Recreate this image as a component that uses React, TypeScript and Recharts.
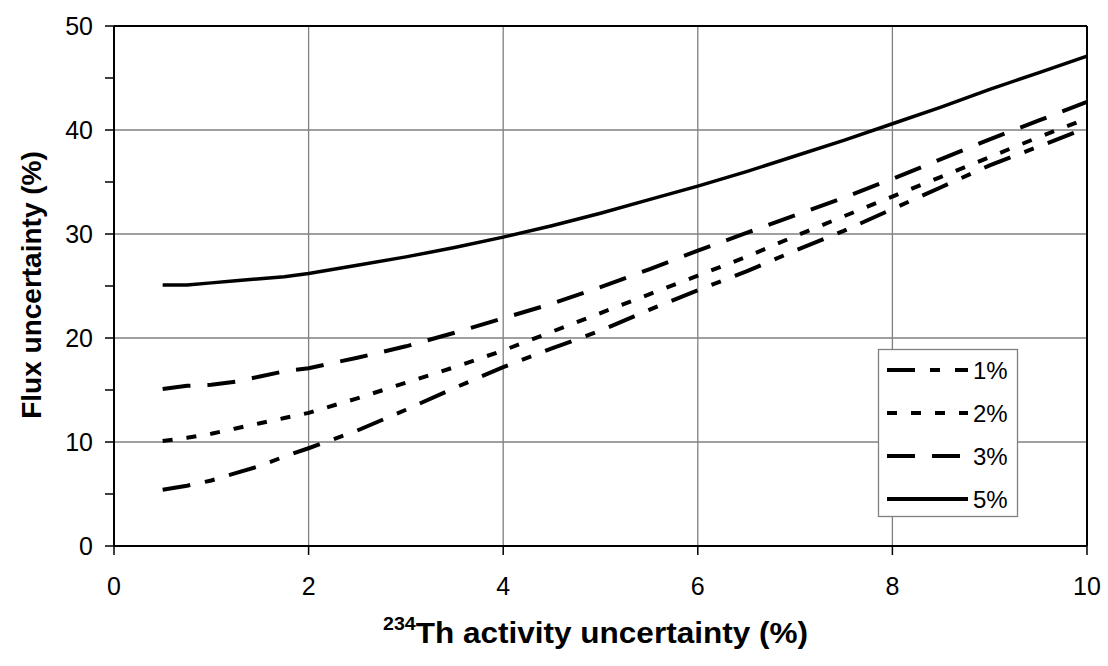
import React from 'react';
import { LineChart, Line, XAxis, YAxis, CartesianGrid, ReferenceLine } from 'recharts';

const xValues = [0.5, 0.75, 1, 1.25, 1.5, 1.75, 2, 2.5, 3, 3.5, 4, 4.5, 5, 5.5, 6, 6.5, 7, 7.5, 8, 8.5, 9, 9.5, 10];
const flux1 = [5.4, 5.8, 6.3, 7.0, 7.7, 8.6, 9.4, 11.1, 13.1, 15.2, 17.2, 19.0, 20.7, 22.7, 24.6, 26.4, 28.4, 30.3, 32.4, 34.5, 36.6, 38.4, 40.2];
const flux2 = [10.1, 10.4, 10.8, 11.3, 11.8, 12.3, 12.8, 14.2, 15.7, 17.2, 18.8, 20.6, 22.4, 24.2, 26.0, 27.8, 29.8, 31.7, 33.6, 35.5, 37.4, 39.3, 41.1];
const flux3 = [15.1, 15.4, 15.5, 15.8, 16.3, 16.8, 17.1, 18.1, 19.2, 20.5, 21.9, 23.3, 24.9, 26.6, 28.4, 30.1, 31.8, 33.5, 35.3, 37.2, 39.1, 40.9, 42.7];
const flux5 = [25.1, 25.1, 25.3, 25.5, 25.7, 25.9, 26.2, 27.0, 27.8, 28.7, 29.7, 30.8, 32.0, 33.3, 34.6, 36.0, 37.5, 39.0, 40.6, 42.2, 43.9, 45.5, 47.1];

const xTicks = [0, 2, 4, 6, 8, 10];
const yTicks = [0, 5, 10, 15, 20, 25, 30, 35, 40, 45, 50];

const SERIES = [
  { key: 'p1', name: '1%', dash: '28 15 10 15' },
  { key: 'p2', name: '2%', dash: '10 14' },
  { key: 'p3', name: '3%', dash: '28 17' },
  { key: 'p5', name: '5%', dash: undefined as string | undefined },
];

const data = xValues.map((x, i) => ({ x, p1: flux1[i], p2: flux2[i], p3: flux3[i], p5: flux5[i] }));

const FONT = 'Arial, "Liberation Sans", sans-serif';

const YTick = ({ x, y, payload }: any) => {
  if (payload.value % 10 !== 0) return null;
  return (
    <text x={x - 10} y={y} textAnchor="end" dominantBaseline="central" fontSize={25} fill="#000" fontFamily={FONT}>
      {payload.value}
    </text>
  );
};

const XTick = ({ x, y, payload }: any) => (
  <text x={x} y={y + 29} textAnchor="middle" dominantBaseline="central" fontSize={25} fill="#000" fontFamily={FONT}>
    {payload.value}
  </text>
);

export default function App() {
  return (
    <div style={{ position: 'absolute', left: 0, top: 0, width: 1108, height: 666, background: '#fff', fontFamily: FONT }}>
      <LineChart width={1108} height={666} data={data} margin={{ top: 26, right: 21, left: 0, bottom: 0 }}>
        <CartesianGrid stroke="#808080" strokeWidth={1.3} horizontalValues={[10, 20, 30, 40]} verticalValues={[2, 4, 6, 8]} />
        <XAxis
          dataKey="x"
          type="number"
          domain={[0, 10]}
          ticks={xTicks}
          height={120}
          tick={<XTick />}
          tickSize={9}
          axisLine={{ stroke: '#000', strokeWidth: 2 }}
          tickLine={{ stroke: '#000', strokeWidth: 1.5 }}
        />
        <YAxis
          type="number"
          domain={[0, 50]}
          ticks={yTicks}
          width={114}
          interval={0}
          tick={<YTick />}
          tickSize={9}
          axisLine={{ stroke: '#000', strokeWidth: 2 }}
          tickLine={{ stroke: '#000', strokeWidth: 1.5 }}
        />
        <ReferenceLine y={50} stroke="#000" strokeWidth={2} />
        <ReferenceLine x={10} stroke="#000" strokeWidth={2} />
        {SERIES.map((s) => (
          <Line
            key={s.key}
            dataKey={s.key}
            name={s.name}
            type="linear"
            stroke="#000"
            strokeWidth={s.dash ? 4 : 3.5}
            strokeDasharray={s.dash}
            dot={false}
            activeDot={false}
            isAnimationActive={false}
          />
        ))}
      </LineChart>
      <svg width={1108} height={666} style={{ position: 'absolute', left: 0, top: 0, pointerEvents: 'none' }}>
        <text
          transform="translate(31 285) rotate(-90)"
          textAnchor="middle"
          dominantBaseline="central"
          fontSize={28}
          fontWeight="bold"
          fontFamily={FONT}
        >
          Flux uncertainty (%)
        </text>
        <text x={383} y={643} fontSize={29} fontWeight="bold" fontFamily={FONT} textLength={425} lengthAdjust="spacingAndGlyphs">
          <tspan fontSize={18} dy={-13}>234</tspan>
          <tspan dy={13}>Th activity uncertainty (%)</tspan>
        </text>
        <g>
          <rect x={878.5} y={349.5} width={139} height={167} fill="#fff" stroke="#808080" strokeWidth={1.3} />
          {SERIES.map((s, i) => {
            const y = 370 + i * 43;
            return (
              <g key={s.key}>
                <line x1={887} x2={968} y1={y} y2={y} stroke="#000" strokeWidth={4} strokeDasharray={s.dash} />
                <text x={973} y={y} dominantBaseline="central" fontSize={24} fontFamily={FONT}>{s.name}</text>
              </g>
            );
          })}
        </g>
      </svg>
    </div>
  );
}
